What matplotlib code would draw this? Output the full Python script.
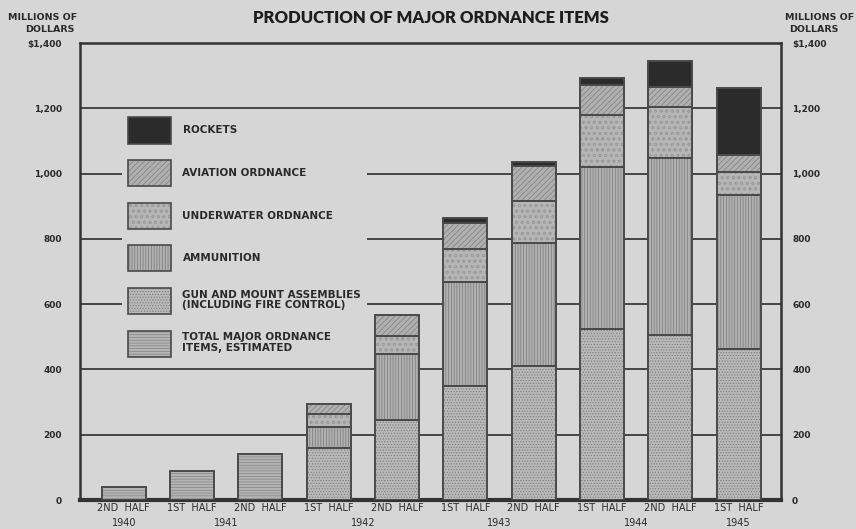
import numpy as np
import matplotlib
matplotlib.use("Agg")
import matplotlib.pyplot as plt
from matplotlib.patches import Patch
from matplotlib.legend_handler import HandlerTuple

# data, millions of dollars
halves = ['2ND  HALF', '1ST  HALF', '2ND  HALF', '1ST  HALF', '2ND  HALF',
          '1ST  HALF', '2ND  HALF', '1ST  HALF', '2ND  HALF', '1ST  HALF']
years = ['1940', '1941', '1942', '1943', '1944', '1945']
year_pos = [0, 1.5, 3.5, 5.5, 7.5, 9]

est_x = [0, 1, 2]
total_est = [40, 88, 141]

stack_x = [3, 4, 5, 6, 7, 8, 9]
gun = [160, 245, 350, 410, 524, 505, 463]
ammo = [64, 203, 318, 376, 495, 544, 470]
underwater = [39, 54, 102, 131, 160, 156, 72]
aviation = [32, 65, 79, 105, 93, 59, 51]
rockets = [0, 0, 15, 12, 22, 80, 205]

yticks = [0, 200, 400, 600, 800, 1000, 1200, 1400]
ylabels = ['0', '200', '400', '600', '800', '1,000', '1,200', '$1,400']

bg = '#d6d6d6'
ink = '#2a2a2a'
edge = '#4a4a4a'

plt.rcParams['hatch.linewidth'] = 0.5
plt.rcParams['font.family'] = 'DejaVu Sans'

fig = plt.figure(figsize=(8.56, 5.29), dpi=100, facecolor=bg)
ax = fig.add_axes([80/856, 1-500/529, 701/856, 457/529], facecolor=bg)

w = 0.645
# face colour, hatch, hatch colour
styles = {
    'rockets': ('#2b2b2b', None, '#2b2b2b'),
    'aviation': ('#b0b0b0', '//////', '#7e7e7e'),
    'underwater': ('#b6b6b6', 'ooo', '#9a9a9a'),
    'ammo': ('#b0b0b0', '||||||', '#7a7a7a'),
    'gun': ('#b9b9b9', '......', '#7a7a7a'),
    'total': ('#b4b4b4', '------', '#858585'),
}

def draw(x, h, b, key):
    fc, hatch, hc = styles[key]
    ax.bar(x, h, w, bottom=b, color=fc, hatch=hatch, edgecolor=hc,
           linewidth=0, zorder=3)
    ax.bar(x, h, w, bottom=b, fill=False, edgecolor=edge, linewidth=1.4,
           zorder=4)

draw(est_x, total_est, 0, 'total')
bottom = np.zeros(len(stack_x))
for key, vals in [('gun', gun), ('ammo', ammo), ('underwater', underwater),
                  ('aviation', aviation), ('rockets', rockets)]:
    v = np.array(vals, dtype=float)
    m = v > 0
    draw(np.array(stack_x)[m], v[m], bottom[m], key)
    bottom += v

ax.set_xlim(-0.64, 9.62)
ax.set_ylim(0, 1400)
ax.yaxis.grid(True, color='#3a3a3a', linewidth=1.3)
ax.set_axisbelow(True)

for sp in ['left', 'right', 'top']:
    ax.spines[sp].set_linewidth(1.8)
    ax.spines[sp].set_color('#333333')
ax.spines['bottom'].set_linewidth(3)
ax.spines['bottom'].set_color('#333333')

ax.set_yticks(yticks)
ax.set_yticklabels(ylabels, fontsize=6.5, fontweight='bold', color=ink)
ax.tick_params(axis='y', length=0, pad=13)
ax2 = ax.twinx()
ax2.set_ylim(0, 1400)
ax2.set_yticks(yticks)
ax2.set_yticklabels(ylabels, fontsize=6.5, fontweight='bold', color=ink)
ax2.tick_params(axis='y', length=0, pad=8)
ax2.spines[:].set_visible(False)

ax.set_xticks(range(len(halves)))
ax.set_xticklabels(halves, fontsize=7, color=ink)
ax.tick_params(axis='x', length=0, pad=2)
for x, yr in zip(year_pos, years):
    ax.text(x, -0.040, yr, transform=ax.get_xaxis_transform(), ha='center',
            va='top', fontsize=7, color=ink)

fig.text(0.503, 0.966, 'PRODUCTION OF MAJOR ORDNANCE ITEMS', ha='center',
         va='center', fontsize=12, fontweight='heavy', color='#1e1e1e',
         family='Lato')
fig.text(43/856, 1-17/529, 'MILLIONS OF', ha='center', va='center',
         fontsize=6.8, fontweight='bold', color=ink)
fig.text(50/856, 1-30/529, 'DOLLARS', ha='center', va='center',
         fontsize=6.8, fontweight='bold', color=ink)
fig.text(854/856, 1-17/529, 'MILLIONS OF', ha='right', va='center',
         fontsize=6.8, fontweight='bold', color=ink)
fig.text(814/856, 1-30/529, 'DOLLARS', ha='center', va='center',
         fontsize=6.8, fontweight='bold', color=ink)

handles = []
for k in ['rockets', 'aviation', 'underwater', 'ammo', 'gun', 'total']:
    fc, hatch, hc = styles[k]
    handles.append((Patch(facecolor=fc, hatch=hatch, edgecolor=hc, linewidth=0),
                    Patch(fill=False, edgecolor=edge, linewidth=1.2)))
labels = ['ROCKETS', 'AVIATION ORDNANCE', 'UNDERWATER ORDNANCE', 'AMMUNITION',
          'GUN AND MOUNT ASSEMBLIES\n(INCLUDING FIRE CONTROL)',
          'TOTAL MAJOR ORDNANCE\nITEMS, ESTIMATED']
fs = 7.5
px = 72 / 100  # points per pixel
leg = ax.legend(handles, labels, loc='upper left',
                handler_map={tuple: HandlerTuple(ndivide=1, pad=0)},
                bbox_to_anchor=((122-80)/701, (500-112)/457),
                prop={'size': fs, 'weight': 'bold'}, frameon=True,
                handlelength=43*px/fs, handleheight=3.48,
                labelspacing=16.5*px/fs, handletextpad=12*px/fs,
                borderpad=5.5*px/fs, borderaxespad=0)
leg.get_frame().set_facecolor(bg)
leg.get_frame().set_edgecolor('none')
leg.get_frame().set_alpha(1)
leg.get_frame().set_boxstyle('square', pad=0)
for t in leg.get_texts():
    t.set_color(ink)
    t.set_linespacing(1.05)

fig.savefig('out.png', dpi=100, facecolor=bg)
